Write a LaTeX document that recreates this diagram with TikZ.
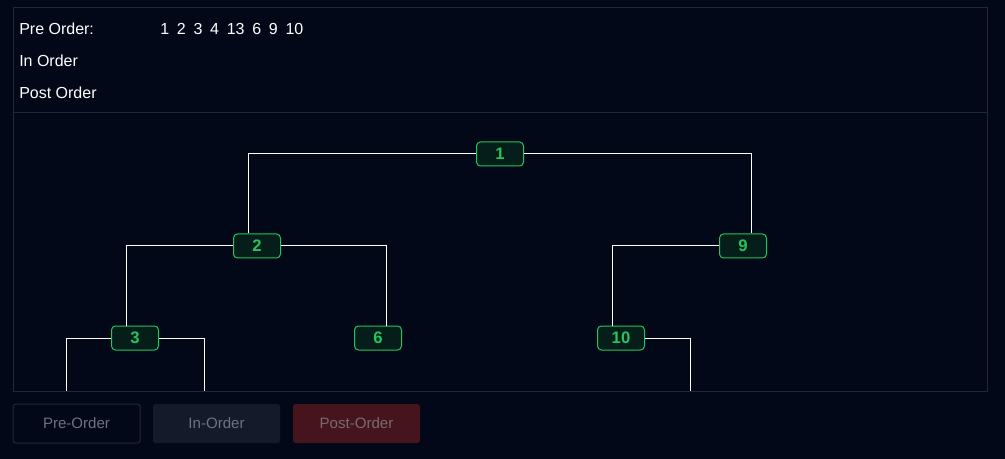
\documentclass[tikz,border=0pt]{standalone}
\usepackage{fontspec}
\setmainfont{Liberation Sans}
\definecolor{bg}{HTML}{020817}
\definecolor{panelline}{HTML}{1E293B}
\definecolor{nodefill}{HTML}{061E1A}
\definecolor{nodegreen}{HTML}{22C55E}
\definecolor{btntext}{HTML}{6B7280}
\definecolor{btnin}{HTML}{141A2A}
\definecolor{btnpost}{HTML}{45141C}
\definecolor{btnposttext}{HTML}{7A6A70}
\tikzset{
  treenode/.style={draw=nodegreen, fill=nodefill, text=nodegreen, rounded corners=3pt,
    minimum width=47*0.75pt, minimum height=24*0.75pt, inner sep=0pt, line width=0.75pt,
    font=\fontsize{12.5}{14}\selectfont\bfseries},
  edge/.style={draw=white, line width=0.75pt},
  label/.style={anchor=west, text=white, inner sep=0pt, font=\fontsize{12}{14}\selectfont},
  btn/.style={rounded corners=2pt, minimum width=127*0.75pt, minimum height=39*0.75pt,
    inner sep=0pt, font=\fontsize{11.3}{13}\selectfont, text=btntext, line width=0.75pt}
}
\begin{document}
\begin{tikzpicture}[x=0.75pt,y=-0.75pt]
\useasboundingbox (0,0) rectangle (1005,459);
\fill[bg] (0,0) rectangle (1005,459);
% panel
\draw[panelline, line width=0.75pt] (13,8) rectangle (987,391);
\draw[panelline, line width=0.75pt] (13,113) -- (987,113);
% labels
\node[label] (pre) at (19,29) {Pre Order:};
\node[label] (in) at (19,61) {In Order};
\node[label] (post) at (19,93) {Post Order};
\node[label] (preseq) at (160,29) {1\hspace{5.8pt}2\hspace{5.8pt}3\hspace{5.8pt}4\hspace{5.8pt}13\hspace{5.8pt}6\hspace{5.8pt}9\hspace{5.8pt}10};
% leaf ends
\coordinate (l3a) at (66,391);
\coordinate (l3b) at (204,391);
\coordinate (l10b) at (690,391);
% tree nodes
\node[treenode] (n1) at (500,154) {1};
\node[treenode] (n2) at (257,246) {2};
\node[treenode] (n9) at (743,246) {9};
\node[treenode] (n3) at (135,338) {3};
\node[treenode] (n6) at (378,338) {6};
\node[treenode] (n10) at (621,338) {10};
% edges
\draw[edge] (n1.west) -| ([xshift=-6.75pt]n2.north);
\draw[edge] (n1.east) -| ([xshift=6pt]n9.north);
\draw[edge] (n2.west) -| ([xshift=-6.75pt]n3.north);
\draw[edge] (n2.east) -| ([xshift=6pt]n6.north);
\draw[edge] (n9.west) -| ([xshift=-6.75pt]n10.north);
\draw[edge] (n3.west) -| (l3a);
\draw[edge] (n3.east) -| (l3b);
\draw[edge] (n10.east) -| (l10b);
% buttons
\node[btn, draw=panelline, fill=bg] (bpre) at (76.5,423.5) {Pre-Order};
\node[btn, fill=btnin] (bin) at (216.5,423.5) {In-Order};
\node[btn, fill=btnpost, text=btnposttext] (bpost) at (356.5,423.5) {Post-Order};
\end{tikzpicture}
\end{document}
